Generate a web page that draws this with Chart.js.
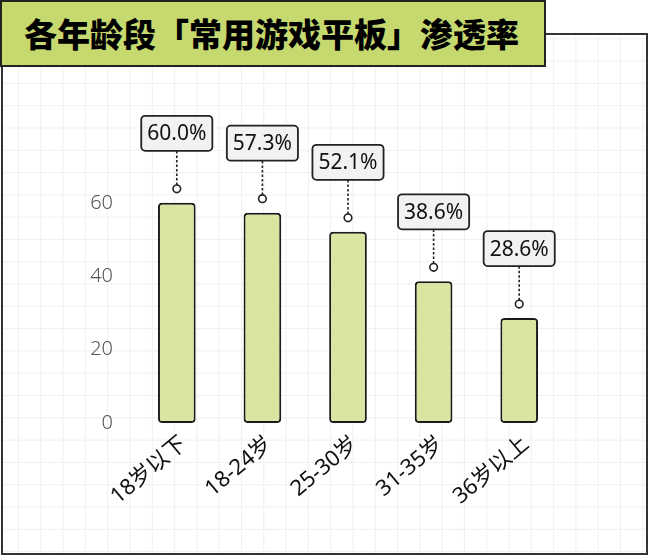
<!DOCTYPE html>
<html>
<head>
<meta charset="utf-8">
<script src="https://cdn.jsdelivr.net/npm/chart.js@4.4.1/dist/chart.umd.min.js"></script>
<style>
  html, body { margin:0; padding:0; width:650px; height:559px; background:#fff; overflow:hidden; }
  #frame {
    position:absolute; left:1px; top:33px; width:643px; height:518px;
    border:2px solid #333;
    background-color:#fff;
    background-image:
      linear-gradient(to right, #efefef 1px, transparent 1px),
      linear-gradient(to bottom, #efefef 1px, transparent 1px);
    background-size:22.3px 22.3px;
    background-position:15px -19px;
  }
  #title {
    position:absolute; left:0; top:0; height:63px;
    background:#c6d96e; border:2px solid #222;
    font-family:"Noto Sans CJK SC", sans-serif; font-weight:900; font-size:33px;
    color:#000; line-height:63px; padding-left:22px; box-sizing:content-box;
    white-space:nowrap; width:520px;
  }
  #wrap { position:absolute; left:0; top:0; width:650px; height:559px; }
</style>
</head>
<body>
<div id="frame"></div>
<div id="title">各年龄段「常用游戏平板」渗透率</div>
<div id="wrap"><canvas id="c" width="650" height="559"></canvas></div>
<script>
const categories = ['18岁以下', '18-24岁', '25-30岁', '31-35岁', '36岁以上'];
const penetration = [60.0, 57.3, 52.1, 38.6, 28.6];
const yTicks = [0, 20, 40, 60];

const labelPlugin = {
  id: 'calloutLabels',
  afterDatasetsDraw(chart) {
    const ctx = chart.ctx;
    const meta = chart.getDatasetMeta(0);
    ctx.save();
    meta.data.forEach((bar, i) => {
      const x = bar.x, top = bar.y;
      const cy = top - 14, r = 3.8;
      ctx.setLineDash([2.5, 2]);
      ctx.strokeStyle = '#222';
      ctx.lineWidth = 1.6;
      ctx.beginPath();
      ctx.moveTo(x, cy - r);
      ctx.lineTo(x, top - 52);
      ctx.stroke();
      ctx.setLineDash([]);
      ctx.beginPath();
      ctx.arc(x, cy, r, 0, Math.PI * 2);
      ctx.fillStyle = '#fff';
      ctx.fill();
      ctx.strokeStyle = '#222';
      ctx.lineWidth = 1.6;
      ctx.stroke();
      const text = penetration[i].toFixed(1) + '%';
      ctx.font = '21px "Noto Sans", sans-serif';
      const tw = ctx.measureText(text).width;
      const w = tw + 12, h = 35;
      const bx = x - w / 2, by = top - 52 - h;
      ctx.beginPath();
      ctx.roundRect(bx, by, w, h, 4);
      ctx.fillStyle = '#f3f1f1';
      ctx.fill();
      ctx.strokeStyle = '#222';
      ctx.lineWidth = 1.8;
      ctx.stroke();
      ctx.fillStyle = '#111';
      ctx.textAlign = 'center';
      ctx.textBaseline = 'middle';
      ctx.fillText(text, x, by + h / 2 + 1);
    });
    ctx.restore();
  }
};

new Chart(document.getElementById('c'), {
  type: 'bar',
  data: {
    labels: categories,
    datasets: [{
      data: penetration,
      backgroundColor: '#d9e6a1',
      borderColor: '#1a1a1a',
      borderWidth: 2,
      borderRadius: 4,
      borderSkipped: false,
      barPercentage: 0.44,
      categoryPercentage: 1.0
    }]
  },
  options: {
    responsive: false,
    animation: false,
    devicePixelRatio: 1,
    layout: { padding: { top: 56, right: 88, left: 0, bottom: 0 } },
    plugins: { legend: { display: false }, tooltip: { enabled: false } },
    scales: {
      x: {
        grid: { display: false },
        border: { display: false },
        ticks: {
          color: '#111',
          font: { family: '"Noto Sans", "Noto Sans CJK SC", sans-serif', size: 22 },
          minRotation: 40, maxRotation: 40,
          padding: 0,
          labelOffset: 7
        },
        afterFit(s) { s.height = 136; }
      },
      y: {
        min: 0, max: 100,
        grid: { display: false },
        border: { display: false },
        afterBuildTicks(s) { s.ticks = yTicks.map(v => ({ value: v })); },
        ticks: {
          color: '#555',
          font: { family: '"Noto Sans", sans-serif', size: 20, weight: '300' },
          padding: 13
        },
        afterFit(s) { s.width = 134; }
      }
    }
  },
  plugins: [labelPlugin]
});
</script>
</body>
</html>
